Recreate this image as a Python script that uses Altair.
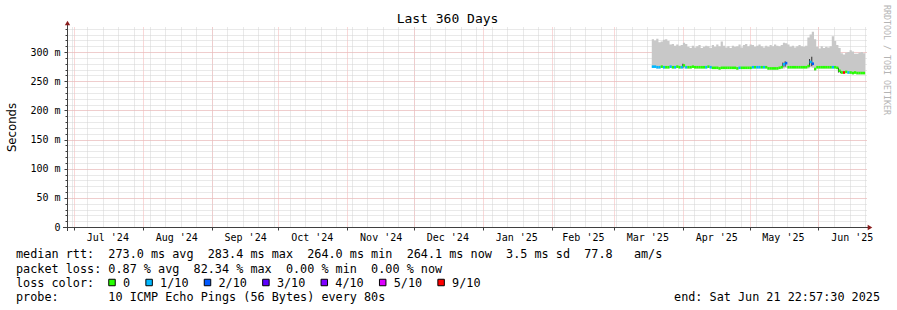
import altair as alt
import pandas as pd

# ---------------- data ----------------
first_day = "2025-03-18"   # first daily bin with data
smoke_max = [322, 320, 323, 317, 318, 321, 322, 319, 313, 314, 311, 313, 311, 312,
             316, 314,
             309, 307, 311, 308, 310, 312, 307, 309, 311, 310, 307,
             312, 309, 313, 310, 318, 311,
             308, 310, 307, 311, 309, 310, 313, 308,
             312, 314, 310, 313, 312, 309, 311, 313,
             310, 308, 311, 309,
             312, 310, 313, 311, 310, 312,
             316, 315, 313,
             309, 311, 308, 310, 312, 310, 309, 311,
             325, 330, 335, 322,
             309, 306, 310, 307, 309, 308, 310,
             327, 319, 312, 307,
             298, 296, 299, 300, 303, 301, 297, 297, 299, 300, 298]
smoke_min = [273, 273, 272, 272, 273, 272, 272, 272, 273, 272, 272, 273, 272, 272,
             272,
             272, 272, 272, 273, 272, 272, 272, 272, 272, 272, 273, 272,
             271, 271, 271, 270, 271, 271, 271, 271, 271, 271, 271, 270, 271, 271, 271, 271, 271, 271, 272,
             272, 272, 272, 272, 272, 272,
             270, 270, 270, 270, 270, 271, 272,
             272, 273,
             272, 272, 272, 272, 272, 272, 272, 272, 272,
             272, 274, 273, 268,
             272, 272, 272, 272, 272, 272, 272, 272, 272,
             271, 265,
             263, 263, 264, 263, 263, 262, 263, 262, 262, 262, 262]
median = [275, 275, 274, 274, 275, 274, 274, 274, 275, 274, 274, 275, 274, 274,
          277,
          274, 274, 274, 275, 274, 274, 274, 274, 274, 274, 275, 274,
          273, 273, 273, 272, 273, 273, 273, 273, 273, 273, 273, 272, 273, 273, 273, 273, 273, 273, 274,
          274, 274, 274, 274, 274, 274,
          272, 272, 272, 272, 272, 273, 274,
          279, 281,
          274, 274, 274, 274, 274, 274, 274, 274, 274,
          276, 283, 280, 271,
          274, 274, 274, 274, 274, 274, 274, 274, 274,
          273, 268,
          265, 265, 266, 265, 265, 264, 265, 264, 264, 264, 264]
loss = [1, 1, 1, 1, 0, 1, 0, 0, 1, 0, 1, 0, 0, 1, 0, 1,
        0, 0, 0, 0, 0, 0, 0, 0, 1, 0, 1,
        0, 0, 0, 0, 0, 0, 0, 0, 0, 0, 0, 0, 1, 0, 0, 0, 0, 0, 1,
        0, 1, 1, 0, 1, 0, 0, 0, 0, 0, 0, 0, 0,
        1, 2,
        0, 0, 0, 0, 0, 0, 0, 0, 0, 0,
        1, 2,
        0, 0, 0, 0, 0, 0, 0, 0,
        1, 0, 0, 0, 0, 9, 0, 1,
        0, 0, 0, 0, 0, 0, 0]

# darker smoke streaks around the median
dark_days = ["2025-04-01", "2025-05-16", "2025-05-17", "2025-05-28", "2025-05-29", "2025-06-10", "2025-06-11"]
dark_lo = [273, 274, 275, 275, 276, 265, 264]
dark_hi = [280, 282, 284, 288, 292, 273, 268]

loss_labels = ["0", "1/10", "2/10", "3/10", "4/10", "5/10", "9/10"]
loss_values = [0, 1, 2, 3, 4, 5, 9]
loss_colors = ["#26ff00", "#00b8ff", "#0059ff", "#5e00ff", "#7e00ff", "#dd00ff", "#ff0000"]

month_label_days = ["2024-07-16", "2024-08-16", "2024-09-16", "2024-10-16", "2024-11-16",
                    "2024-12-16", "2025-01-16", "2025-02-15", "2025-03-16", "2025-04-16",
                    "2025-05-16", "2025-06-16"]
y_major = [0, 50, 100, 150, 200, 250, 300]
y_minor = list(range(10, 341, 10))

title_text = "Last 360 Days"
y_title = "Seconds"
line1 = "median rtt:  273.0 ms avg  283.4 ms max  264.0 ms min  264.1 ms now  3.5 ms sd  77.8   am/s"
line2 = "packet loss: 0.87 % avg  82.34 % max  0.00 % min  0.00 % now"
line3 = "loss color:"
line4 = "probe:       10 ICMP Echo Pings (56 Bytes) every 80s"
end_text = "end: Sat Jun 21 22:57:30 2025"
watermark = "RRDTOOL / TOBI OETIKER"

# ---------------- tables ----------------
dates = pd.date_range(first_day, periods=len(median), freq="D")
df = pd.DataFrame({"date": dates, "next": dates + pd.Timedelta(days=1),
                   "smax": smoke_max, "smin": smoke_min,
                   "median": median, "loss": loss})
# closing row for the step area
tail = df.iloc[[-1]].copy()
tail["date"] = tail["next"]
df_smoke = pd.concat([df, tail], ignore_index=True)
df_dark = pd.DataFrame({"d": pd.to_datetime(dark_days), "lo": dark_lo, "hi": dark_hi})
dummy = pd.DataFrame({"a": [0]})

def dt(s):
    t = pd.Timestamp(s)
    return alt.DateTime(year=t.year, month=t.month, date=t.day, hours=t.hour, minutes=t.minute)

FONT = "DejaVu Sans Mono"
W, H = 800, 200
xscale = alt.Scale(domain=[dt("2024-06-27 20:24"), dt("2025-06-22 20:24")])
yscale = alt.Scale(domain=[0, 343], nice=False, zero=False)
GRID_GRAY = "#d2d2d2"
GRID_RED = "#f4b0b0"
AXIS_COL = "#404040"
ARROW_COL = "#8a1c1c"
NB = "\u00a0"

smoke = alt.Chart(df_smoke).mark_area(interpolate="step-after", color="#c8c8c8").encode(
    x=alt.X("date:T", scale=xscale,
            axis=alt.Axis(orient="bottom", tickCount={"interval": "week", "step": 1},
                          grid=True, gridColor=GRID_GRAY, gridDash=[1, 1], gridWidth=1,
                          labels=False, ticks=False, domain=False, title=None)),
    y=alt.Y("smax:Q", scale=yscale,
            axis=alt.Axis(orient="left", values=y_minor, grid=True, gridColor=GRID_GRAY,
                          gridDash=[1, 1], labels=False, ticks=True, tickSize=2,
                          tickColor=AXIS_COL, domain=False, title=None)),
    y2="smin:Q",
)

dark = alt.Chart(df_dark).mark_rule(color="#2a2a2a", strokeWidth=1).encode(
    x=alt.X("d:T", scale=xscale,
            axis=alt.Axis(orient="bottom", tickCount={"interval": "month", "step": 1},
                          grid=True, gridColor=GRID_RED, gridDash=[1, 1], labels=False,
                          ticks=True, tickSize=3, tickColor=AXIS_COL, domain=False, title=None)),
    y=alt.Y("lo:Q", scale=yscale,
            axis=alt.Axis(orient="left", values=y_major, grid=True, gridColor=GRID_RED,
                          gridDash=[1, 1], ticks=True, tickSize=3, tickColor=AXIS_COL,
                          labelPadding=4, labelFont=FONT, labelFontSize=10, labelColor="black",
                          labelExpr=f"datum.value == 0 ? '0{NB}{NB}' : datum.value + '{NB}m'",
                          domain=False, title=None)),
    y2="hi:Q",
)

med = alt.Chart(df).mark_rule(strokeWidth=2.6).encode(
    x=alt.X("date:T", scale=xscale,
            axis=alt.Axis(orient="bottom", values=[dt(d) for d in month_label_days],
                          format="%b '%y", formatType="time", grid=False, ticks=False,
                          domain=False, labelPadding=5, labelFont=FONT, labelFontSize=10,
                          labelColor="black", labelOverlap=False, labelFlush=False, title=None)),
    x2="next:T",
    y=alt.Y("median:Q", scale=yscale, axis=None),
    color=alt.Color("loss:N", scale=alt.Scale(domain=loss_values, range=loss_colors), legend=None),
)

base = alt.Chart(dummy)
x_axis_line = base.mark_rule(color=AXIS_COL, strokeWidth=1).encode(
    x=alt.value(-4), x2=alt.value(802), y=alt.value(200.5))
y_axis_line = base.mark_rule(color=AXIS_COL, strokeWidth=1).encode(
    x=alt.value(0.5), y=alt.value(-3), y2=alt.value(204))
up_arrow = base.mark_point(shape="triangle-up", filled=True, size=28, color=ARROW_COL, opacity=1).encode(
    x=alt.value(0.5), y=alt.value(-4))
right_arrow = base.mark_point(shape="triangle-right", filled=True, size=28, color=ARROW_COL, opacity=1).encode(
    x=alt.value(803), y=alt.value(200.5))

def txt(s, x, y, size=11.8, align="left", angle=0, color="black", font=FONT):
    return base.mark_text(align=align, baseline="middle", font=font, fontSize=size,
                          color=color, angle=angle).encode(
        x=alt.value(x), y=alt.value(y), text=alt.value(s.replace(" ", NB)))

PITCH = 7.1
texts = [
    txt(title_text, 380.5, -8, size=13, align="center"),
    txt(y_title, -55, 100.5, size=11.7, align="center", angle=270, font="DejaVu Sans"),
    txt(watermark, 819, -22, size=8.3, angle=90, color="#b4b4b4"),
    txt(line1, -51, 227), txt(line2, -51, 241.5), txt(line3, -51, 255.5), txt(line4, -51, 269.5),
    txt(end_text, 813, 269.5, align="right"),
]
# loss colour legend, laid out the way rrdtool flows it
bx = 108 - 67
for lab, col in zip(loss_labels, loss_colors):
    texts.append(base.mark_square(size=42, filled=True, opacity=1, stroke="black", strokeWidth=1).encode(
        x=alt.value(bx + 4), y=alt.value(255.5), fill=alt.value(col)))
    texts.append(txt(lab, bx + 15, 255.5))
    bx = bx + 15 + PITCH * len(lab) + 15

chart = alt.layer(smoke, dark, med, x_axis_line, y_axis_line, up_arrow, right_arrow, *texts).resolve_scale(
    x="shared", y="shared").resolve_axis(x="independent", y="independent").properties(
    width=W, height=H, autosize="none",
    padding={"left": 67, "top": 27, "right": 30, "bottom": 83},
    background="white",
).configure_view(stroke=None)

chart.save("out.html", embed_options={"renderer": "svg", "actions": False})
